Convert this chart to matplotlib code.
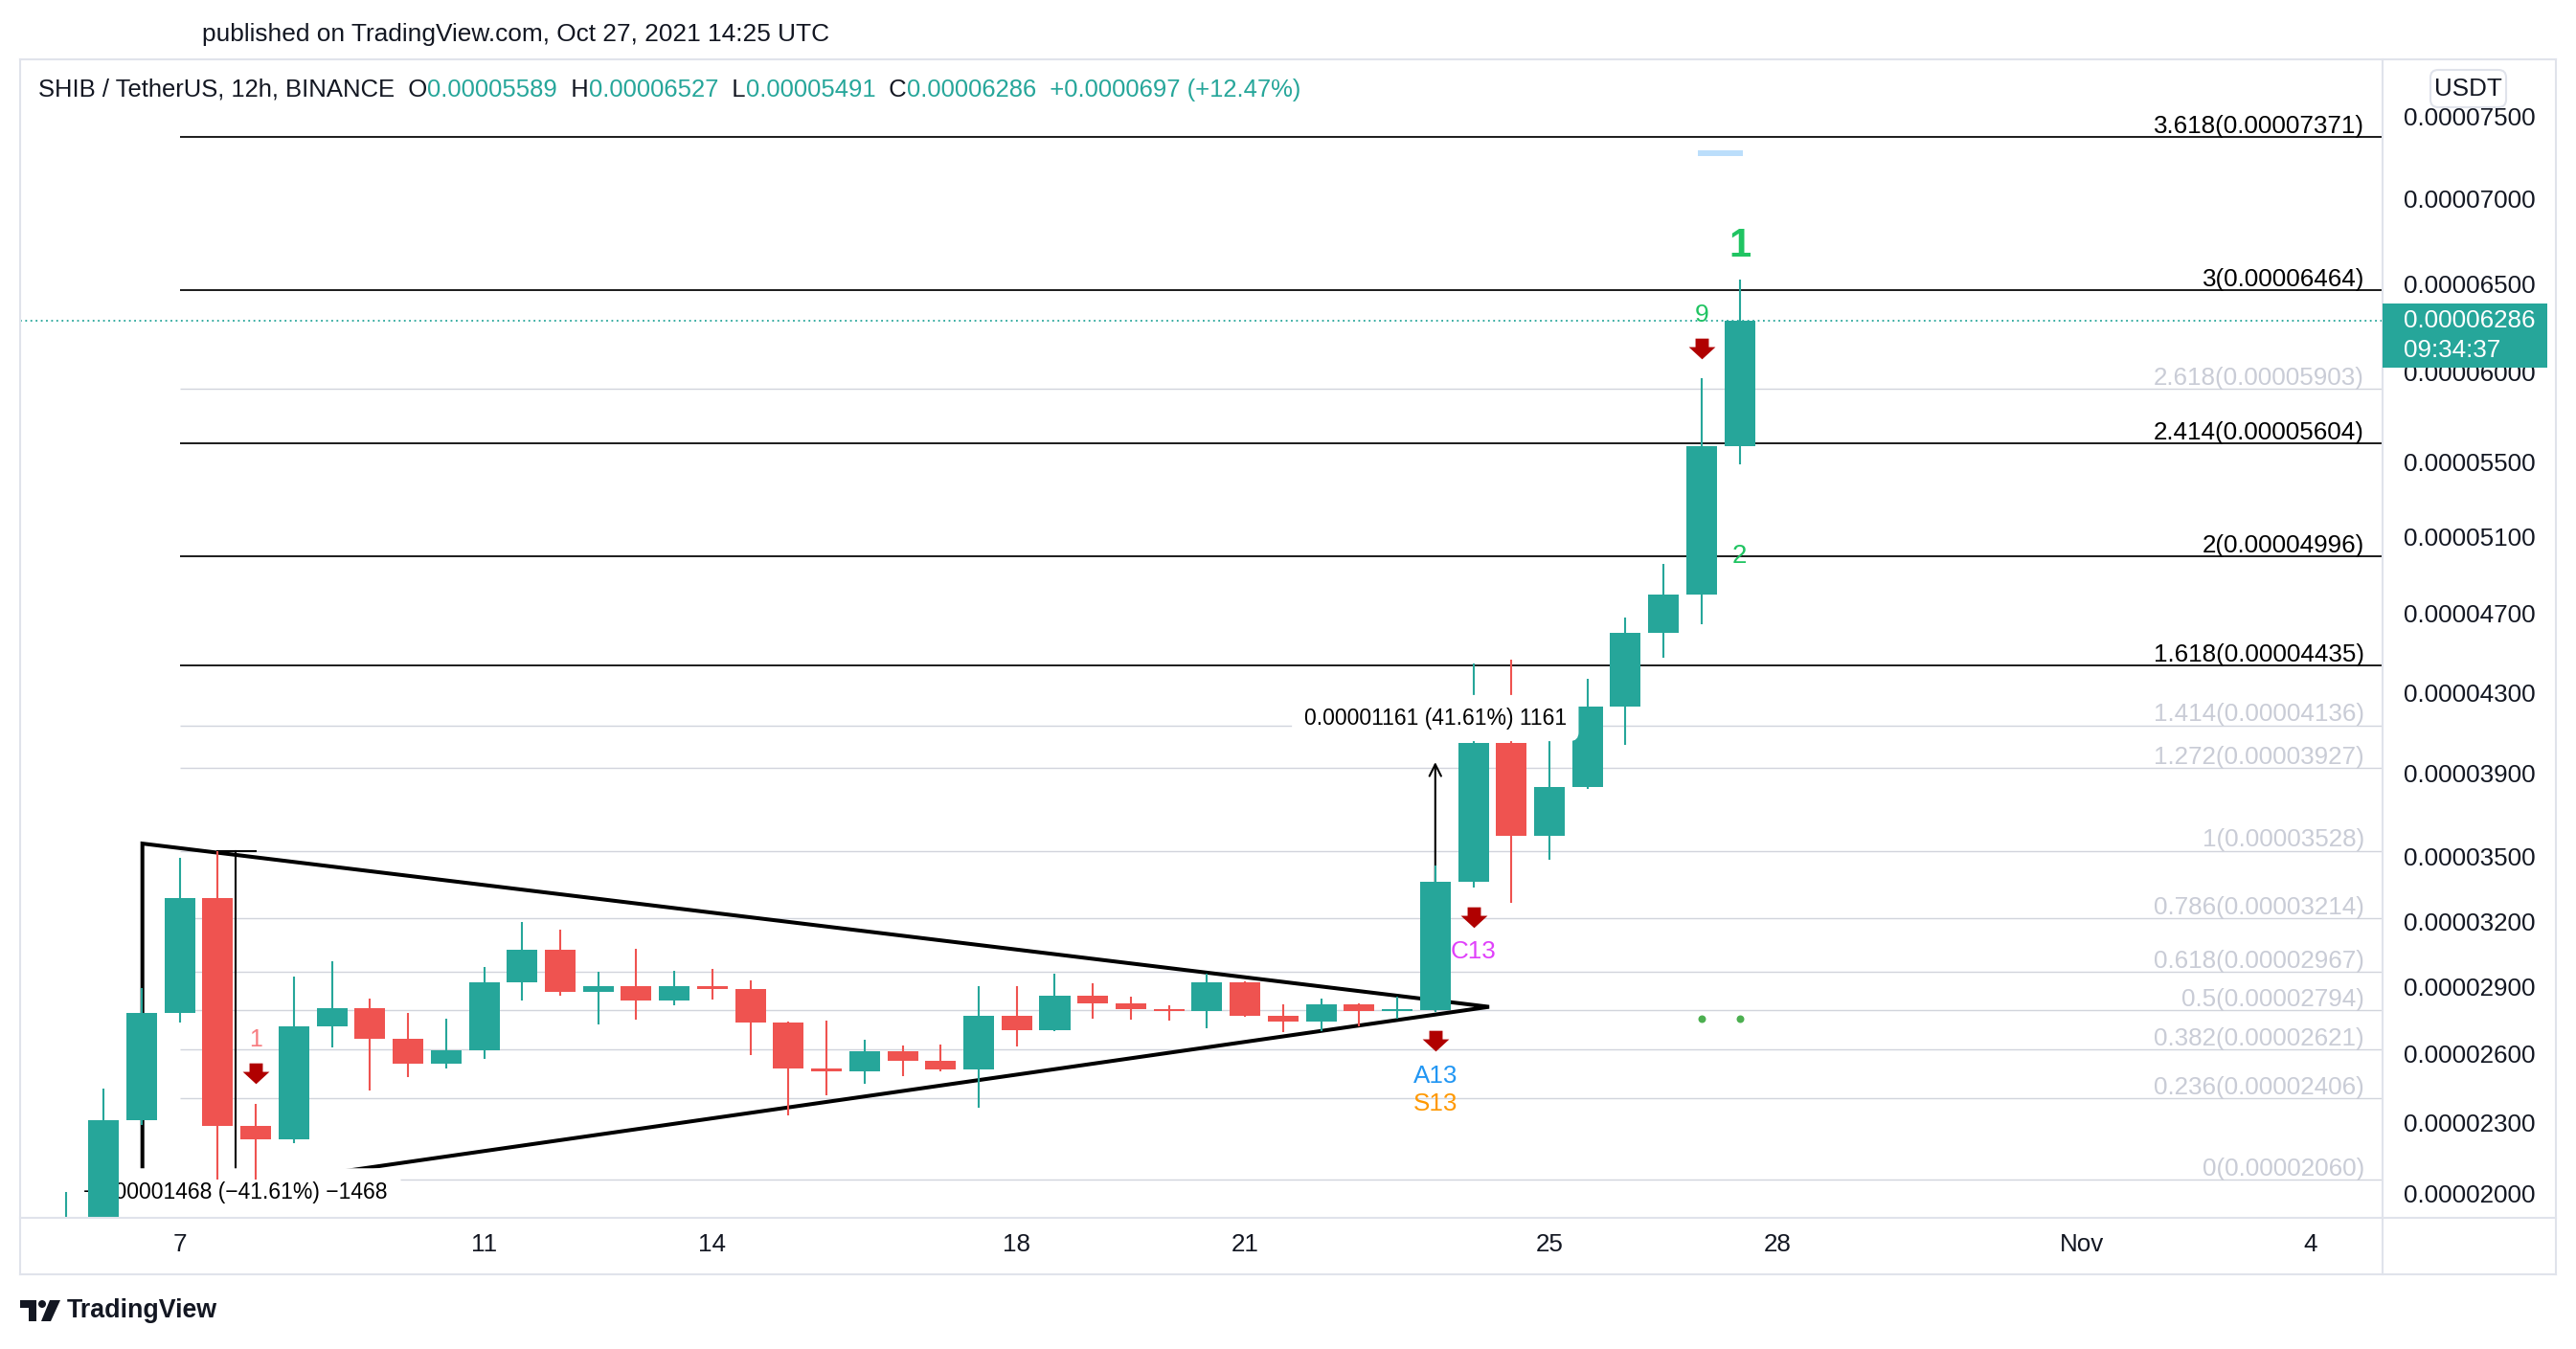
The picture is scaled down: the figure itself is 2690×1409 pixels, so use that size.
import matplotlib
matplotlib.use("Agg")
import matplotlib.pyplot as plt
import matplotlib.dates as mdates
from matplotlib.patches import Rectangle, FancyBboxPatch, Polygon, Circle
from matplotlib.lines import Line2D
from matplotlib.path import Path
from matplotlib.transforms import Affine2D
import numpy as np
import pandas as pd

plt.rcParams['font.family'] = ['Liberation Sans', 'DejaVu Sans']

# SHIB/USDT 12h candles, Oct 5 12:00 -> Oct 27 12:00 UTC, prices in 1e-8 USDT
bar_start = '2021-10-05 12:00'
opens = [1790, 1870, 2313, 2784, 3305, 2286, 2231, 2725, 2806, 2666,
         2558, 2615, 2922, 3067, 2876, 2905, 2837, 2905, 2889, 2739,
         2536, 2523, 2611, 2570, 2532, 2771, 2705, 2862, 2824, 2798,
         2790, 2922, 2772, 2743, 2823, 2790, 2794, 3385, 4050, 3598,
         3833, 4230, 4601, 4796, 5589]
highs = [2005, 2450, 2893, 3496, 3528, 2383, 2947, 3018, 2845, 2784,
         2755, 2988, 3198, 3159, 2966, 3071, 2974, 2983, 2927, 2745,
         2750, 2662, 2636, 2641, 2901, 2901, 2961, 2918, 2855, 2817,
         2961, 2924, 2823, 2849, 2825, 2855, 3460, 4447, 4463, 4080,
         4366, 4680, 4960, 5961, 6527]
lows = [1760, 1850, 2290, 2738, 2060, 2058, 2212, 2629, 2439, 2501,
        2536, 2579, 2837, 2859, 2731, 2752, 2816, 2842, 2596, 2331,
        2418, 2469, 2503, 2523, 2368, 2635, 2701, 2759, 2752, 2748,
        2714, 2764, 2697, 2701, 2722, 2755, 2785, 3354, 3286, 3488,
        3825, 4038, 4474, 4647, 5491]
closes = [1870, 2313, 2784, 3305, 2286, 2231, 2725, 2806, 2666, 2558,
          2615, 2922, 3067, 2876, 2905, 2837, 2905, 2889, 2739, 2536,
          2523, 2611, 2570, 2532, 2771, 2705, 2862, 2824, 2798, 2790,
          2922, 2772, 2743, 2823, 2790, 2798, 3385, 4050, 3598, 3833,
          4230, 4601, 4796, 5589, 6286]
last_price = 6286

# fib extension levels
fib_ratios = ['0', '0.236', '0.382', '0.5', '0.618', '0.786', '1', '1.272',
              '1.414', '1.618', '2', '2.414', '2.618', '3', '3.618']
fib_values = [2060, 2406, 2621, 2794, 2967, 3214, 3528, 3927,
              4136, 4435, 4996, 5604, 5903, 6464, 7371]
fib_strong = ['1.618', '2', '2.414', '3', '3.618']

# price axis / time axis labels
price_ticks = [2000, 2300, 2600, 2900, 3200, 3500, 3900, 4300,
               4700, 5100, 5500, 6000, 6500, 7000, 7500]
time_tick_days = [7, 11, 14, 18, 21, 25, 28, 32, 35]
time_tick_labels = ['7', '11', '14', '18', '21', '25', '28', 'Nov', '4']

# drawings (day of October, price)
tri_days = [6.509, 6.509, 24.207]
tri_prices = [3563, 1973, 2810]
measure_down = (7.734, 3528, 2060, '\u22120.00001468 (\u221241.61%) \u22121468')
measure_up = (23.5, 2794, 3955, '0.00001161 (41.61%) 1161')

TEAL = '#26a69a'
RED = '#ef5350'
TXT = '#131722'
GRAY = '#d1d4dc'
BORDER = '#e0e3eb'
GREEN = '#20c462'
DARKRED = '#b00000'
SCALE = 1e-8
OFF = 9.9e-5
FS = 18.7

W, H, DPI = 2690, 1409, 100
fig = plt.figure(figsize=(W / DPI, H / DPI), dpi=DPI)
fig.patch.set_facecolor('white')
PX = Affine2D().scale(1, -1).translate(0, H)   # pixel coords from top-left


def day(d):
    return mdates.date2num(pd.Timestamp('2021-10-01')) + np.asarray(d) - 1


L, R, T, B = 21, 2488, 62, 1272
ax = fig.add_axes([L / W, 1 - B / H, (R - L) / W, (B - T) / H])
ax.set_yscale('function', functions=(lambda p: np.log(p + OFF),
                                     lambda v: np.exp(v) - OFF))
ax.set_xlim(day(4.902), day(35.949))
ax.set_ylim(1899 * SCALE, 7850 * SCALE)
for s in ax.spines.values():
    s.set_visible(False)

# candles
times = pd.date_range(bar_start, periods=len(opens), freq='12h')
x = mdates.date2num(times)
o, h, l, c = (np.array(a) * SCALE for a in (opens, highs, lows, closes))
col = np.where(c >= o, TEAL, RED)
ax.vlines(x, l, h, colors=col, lw=1.5, zorder=6)
ax.bar(x, np.maximum(np.abs(c - o), 1.2 * SCALE), bottom=np.minimum(o, c),
       width=0.403, color=col, lw=0, zorder=6)

# fib levels
for r, v in zip(fib_ratios, fib_values):
    strong = r in fib_strong
    ax.hlines(v * SCALE, day(7), day(35.949), colors='black' if strong else GRAY,
              lw=1.25 if strong else 1.0, zorder=2)
    ax.annotate(f'{r}({v * SCALE:.8f})', xy=(1, v * SCALE),
                xycoords=('axes fraction', 'data'), xytext=(-13.7, 3.1),
                textcoords='offset points', ha='right', va='baseline',
                fontsize=FS, color='black' if strong else '#c9ccd6', zorder=2)

# current price line
ax.axhline(last_price * SCALE, color=TEAL, ls=(0, (1, 2)), lw=1.3, zorder=3)

# triangle
ax.add_patch(Polygon(np.column_stack([day(tri_days), np.array(tri_prices) * SCALE]),
                     closed=True, fill=False, ec='black', lw=2.9,
                     joinstyle='miter', zorder=3))

# price range tools
md, p_top, p_bot, txt = measure_down
ax.plot([day(7.5), day(8.0)], [p_top * SCALE] * 2, color='black', lw=1.5, zorder=3)
ax.plot([day(md), day(md)], [p_top * SCALE, p_bot * SCALE], color='black', lw=1.5, zorder=3)
ax.text(day(md), 2005 * SCALE, txt, ha='center', va='center', fontsize=16.5,
        color='black', zorder=4,
        bbox=dict(boxstyle='round,pad=0.6,rounding_size=0.4', fc='white', ec='none'))

mu, p_from, p_to, txt = measure_up
ax.annotate('', xy=(day(mu), p_to * SCALE), xytext=(day(mu), p_from * SCALE),
            arrowprops=dict(arrowstyle='->', lw=1.5, color='black',
                            shrinkA=0, shrinkB=0, mutation_scale=22), zorder=3)
ax.text(day(mu), 4172 * SCALE, txt, ha='center', va='center', fontsize=16.5,
        color='black', zorder=7,
        bbox=dict(boxstyle='round,pad=0.55,rounding_size=0.4', fc='white', ec='none'))

# TD sequential marks
arrow = Path([(-0.25, 0.39), (0.25, 0.39), (0.25, 0.07), (0.5, 0.07), (0, -0.39),
              (-0.5, 0.07), (-0.25, 0.07), (-0.25, 0.39)])
arrow_days = [8.0, 23.5, 24.0, 27.0]
arrow_prices = [2514, 2660, 3216, 6130]
ax.plot(day(arrow_days), np.array(arrow_prices) * SCALE, ls='none', marker=arrow,
        ms=20, color=DARKRED, mew=0, zorder=8)

ax.text(day(27.5), 6720 * SCALE, '1', color=GREEN, fontsize=30, fontweight='bold',
        ha='center', va='center', zorder=8)
ax.text(day(27.0), 6322 * SCALE, '9', color=GREEN, fontsize=19, ha='center',
        va='center', zorder=8)
ax.text(day(27.5), 4996 * SCALE, '2', color=GREEN, fontsize=20, ha='center',
        va='center', zorder=8)
ax.text(day(8.0), 2663 * SCALE, '1', color='#f77c80', fontsize=18, ha='center',
        va='center', zorder=8)
ax.text(day(24.0), 3058 * SCALE, 'C13', color='#e040fb', fontsize=FS, ha='center',
        va='center', zorder=8)
ax.text(day(23.5), 2505 * SCALE, 'A13', color='#2196f3', fontsize=FS, ha='center',
        va='center', zorder=8)
ax.text(day(23.5), 2383 * SCALE, 'S13', color='#ff9800', fontsize=FS, ha='center',
        va='center', zorder=8)
ax.scatter(day([27.0, 27.5]), [2759 * SCALE] * 2, s=33, color='#4caf50', lw=0, zorder=8)
ax.hlines(7270 * SCALE, day(26.951), day(27.543), colors='#bbdefb', lw=4.3, zorder=8)

# axes ticks
ax.yaxis.tick_right()
ax.set_yticks([p * SCALE for p in price_ticks])
ax.set_yticklabels([f'{p * SCALE:.8f}' for p in price_ticks])
ax.yaxis.set_minor_locator(matplotlib.ticker.NullLocator())
ax.set_xticks(day(time_tick_days))
ax.set_xticklabels(time_tick_labels)
ax.xaxis.set_minor_locator(matplotlib.ticker.NullLocator())
ax.tick_params(axis='y', length=0, pad=15.8, labelsize=FS, labelcolor=TXT)
ax.tick_params(axis='x', length=0, pad=11.2, labelsize=FS, labelcolor=TXT)

# frame
for xs, ys in [([21, 2669], [62, 62]), ([21, 2669], [1331, 1331]),
               ([21, 21], [62, 1331]), ([2669, 2669], [62, 1331]),
               ([2488, 2488], [62, 1331]), ([21, 2669], [1272, 1272])]:
    fig.add_artist(Line2D(xs, ys, transform=PX, color=BORDER, lw=1.5))

# last price tag on the axis
yd = H - ax.transData.transform((x[-1], last_price * SCALE))[1]
fig.add_artist(Rectangle((2488, yd - 18), 172, 67, transform=PX, fc=TEAL, ec='none', zorder=5))
fig.text(2510, yd, f'{last_price * SCALE:.8f}', transform=PX, color='white',
         fontsize=FS, va='center', ha='left', zorder=6)
fig.text(2510, yd + 30.5, '09:34:37', transform=PX, color='white',
         fontsize=FS, va='center', ha='left', zorder=6)

# USDT badge
fig.add_artist(FancyBboxPatch((2538, 73), 79, 39, transform=PX,
                              boxstyle='round,pad=0,rounding_size=8',
                              fc='white', ec=BORDER, lw=1.5, zorder=5))
fig.text(2577.5, 93, 'USDT', transform=PX, fontsize=FS, color=TXT,
         ha='center', va='center', zorder=6)

# header
fig.text(211, 36, 'published on TradingView.com, Oct 27, 2021 14:25 UTC',
         transform=PX, fontsize=18.9, color=TXT, va='center', ha='left')
legend_parts = [('SHIB / TetherUS, 12h, BINANCE', TXT), ('  O', TXT), ('0.00005589', TEAL),
                ('  H', TXT), ('0.00006527', TEAL), ('  L', TXT), ('0.00005491', TEAL),
                ('  C', TXT), ('0.00006286', TEAL), ('  +0.0000697 (+12.47%)', TEAL)]
prev = fig.text(40, 94, legend_parts[0][0], transform=PX, fontsize=18.45,
                color=legend_parts[0][1], va='center', ha='left')
for s, cl in legend_parts[1:]:
    prev = ax.annotate(s, xy=(1, 0), xycoords=prev, va='bottom', ha='left',
                       fontsize=18.45, color=cl, annotation_clip=False)

# TradingView logo
fig.add_artist(Polygon([(21, 1358), (38, 1358), (38, 1380), (30, 1380), (30, 1366), (21, 1366)],
                       closed=True, transform=PX, fc=TXT, ec='none'))
fig.add_artist(Circle((44, 1362), 4, transform=PX, fc=TXT, ec='none'))
fig.add_artist(Polygon([(52, 1358), (63, 1358), (53, 1380), (43, 1380)],
                       closed=True, transform=PX, fc=TXT, ec='none'))
fig.text(70, 1369, 'TradingView', transform=PX, fontsize=19.3, fontweight='bold',
         color=TXT, va='center', ha='left')

fig.savefig('out.png', dpi=DPI)
